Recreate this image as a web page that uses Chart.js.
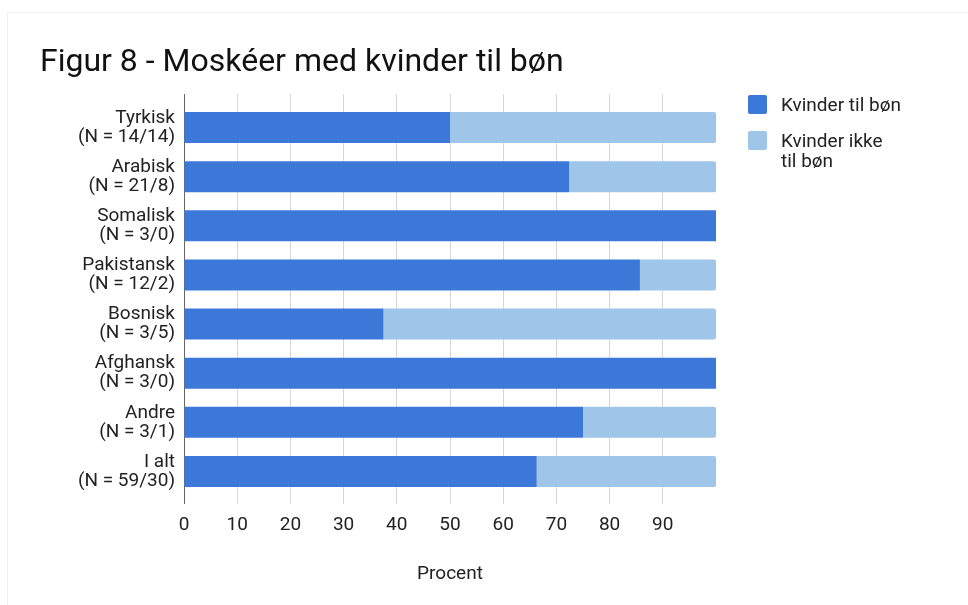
<!DOCTYPE html>
<html>
<head>
<meta charset="utf-8">
<script src="https://cdn.jsdelivr.net/npm/chart.js@4.4.1/dist/chart.umd.min.js"></script>
<style>
  html, body { margin: 0; padding: 0; background: #fff; }
  #wrap { position: relative; width: 968px; height: 605px; }
  #ramme { position: absolute; left: 7px; top: 12px; right: -2px; bottom: -2px; border: 1px solid #f1f1f1; }
  #legende { position: absolute; left: 748px; top: 95px; font-family: Roboto, Arial, sans-serif; font-size: 19px; color: #222; }
  .punkt { position: relative; padding-left: 33px; line-height: 20px; margin-bottom: 16px; }
  .punkt span { position: absolute; left: 0; top: 0; width: 19px; height: 19px; border-radius: 2px; }
</style>
</head>
<body>
<div id="wrap">
  <div id="ramme"></div>
  <canvas id="figur" width="968" height="605"></canvas>
  <div id="legende"></div>
</div>
<script>
var grupper = [
  ['Tyrkisk', '(N = 14/14)'],
  ['Arabisk', '(N = 21/8)'],
  ['Somalisk', '(N = 3/0)'],
  ['Pakistansk', '(N = 12/2)'],
  ['Bosnisk', '(N = 3/5)'],
  ['Afghansk', '(N = 3/0)'],
  ['Andre', '(N = 3/1)'],
  ['I alt', '(N = 59/30)']
];
// procent af moskéerne
var tilBon = [50, 72.4, 100, 85.7, 37.5, 100, 75, 66.3];
var ikkeTilBon = [50, 27.6, 0, 14.3, 62.5, 0, 25, 33.7];
var serieNavne = ['Kvinder til bøn', 'Kvinder ikke til bøn'];
var farver = ['#3c78d8', '#9fc5e8'];

var skrift = 'Roboto, Arial, sans-serif';
Chart.defaults.font.family = skrift;
Chart.defaults.color = '#222';

function gitterFarve(ctx) {
  var v = ctx.tick ? ctx.tick.value : null;
  if (v === 0) return '#666';
  if (v === 100) return 'rgba(0,0,0,0)';
  return '#d6d6d6';
}

new Chart(document.getElementById('figur'), {
  type: 'bar',
  data: {
    labels: grupper,
    datasets: [
      { label: serieNavne[0], data: tilBon, backgroundColor: farver[0], borderSkipped: false, borderRadius: 0 },
      { label: serieNavne[1], data: ikkeTilBon, backgroundColor: farver[1], borderRadius: { topRight: 2, bottomRight: 2 }, borderSkipped: false }
    ]
  },
  options: {
    indexAxis: 'y',
    responsive: false,
    animation: false,
    datasets: { bar: { categoryPercentage: 1, barPercentage: 0.63 } },
    layout: { padding: { left: 40, right: 252, top: 0, bottom: 0 } },
    plugins: {
      legend: { display: false },
      tooltip: { enabled: false },
      title: {
        display: true,
        text: 'Figur 8 - Moskéer med kvinder til bøn',
        align: 'start',
        color: '#111',
        font: { size: 32, family: skrift, weight: 'normal' },
        padding: { top: 44, bottom: 11.6 }
      }
    },
    scales: {
      x: {
        stacked: true,
        min: 0, max: 100,
        border: { display: false },
        grid: { color: gitterFarve, tickLength: 8, tickColor: gitterFarve },
        ticks: {
          stepSize: 10,
          padding: 10,
          font: { size: 19 },
          callback: function (v) { return v === 100 ? '' : v; }
        },
        title: { display: true, text: 'Procent', font: { size: 19 }, padding: { top: 19, bottom: 19 } },
        afterFit: function (s) { s.height = 109; }
      },
      x2: {
        position: 'top',
        min: 0, max: 100,
        border: { display: false },
        grid: { color: gitterFarve, tickColor: gitterFarve, tickLength: 9, drawOnChartArea: false },
        ticks: { display: false, stepSize: 10 }
      },
      y: {
        stacked: true,
        border: { display: false },
        grid: { display: false, drawTicks: false, tickLength: 0 },
        ticks: { padding: 9, font: { size: 19, lineHeight: 1.0 } },
        afterFit: function (s) { s.width = 144; }
      }
    }
  }
});

// forklaring til højre for diagrammet
var legende = document.getElementById('legende');
var tekster = ['Kvinder til bøn', 'Kvinder ikke<br>til bøn'];
tekster.forEach(function (t, i) {
  var d = document.createElement('div');
  d.className = 'punkt';
  d.innerHTML = '<span style="background:' + farver[i] + '"></span>' + t;
  legende.appendChild(d);
});
</script>
</body>
</html>
